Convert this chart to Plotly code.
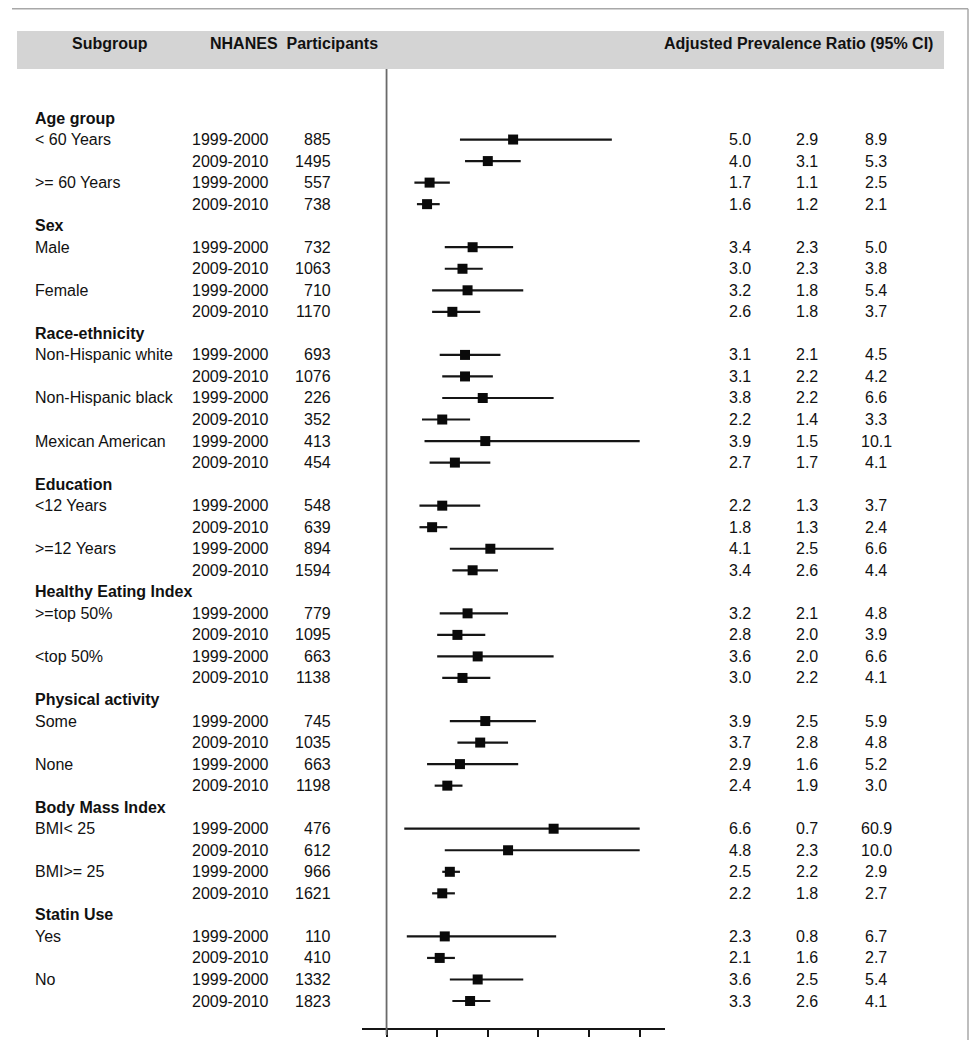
import plotly.graph_objects as go

# ---------------- data ----------------
groups = ["Age group", "Sex", "Race-ethnicity", "Education",
          "Healthy Eating Index", "Physical activity", "Body Mass Index", "Statin Use"]
subgroups_per_group = [2, 2, 3, 2, 2, 2, 2, 2]
subgroup_labels = ["< 60 Years", ">= 60 Years", "Male", "Female",
                   "Non-Hispanic white", "Non-Hispanic black", "Mexican American",
                   "<12 Years", ">=12 Years", ">=top 50%", "<top 50%",
                   "Some", "None", "BMI< 25", "BMI>= 25", "Yes", "No"]
periods = ["1999-2000", "2009-2010"]
participants = [885, 1495, 557, 738, 732, 1063, 710, 1170,
                693, 1076, 226, 352, 413, 454,
                548, 639, 894, 1594, 779, 1095, 663, 1138,
                745, 1035, 663, 1198, 476, 612, 966, 1621,
                110, 410, 1332, 1823]
pr = [5.0, 4.0, 1.7, 1.6, 3.4, 3.0, 3.2, 2.6,
      3.1, 3.1, 3.8, 2.2, 3.9, 2.7,
      2.2, 1.8, 4.1, 3.4, 3.2, 2.8, 3.6, 3.0,
      3.9, 3.7, 2.9, 2.4, 6.6, 4.8, 2.5, 2.2,
      2.3, 2.1, 3.6, 3.3]
ci_low = [2.9, 3.1, 1.1, 1.2, 2.3, 2.3, 1.8, 1.8,
          2.1, 2.2, 2.2, 1.4, 1.5, 1.7,
          1.3, 1.3, 2.5, 2.6, 2.1, 2.0, 2.0, 2.2,
          2.5, 2.8, 1.6, 1.9, 0.7, 2.3, 2.2, 1.8,
          0.8, 1.6, 2.5, 2.6]
ci_high = [8.9, 5.3, 2.5, 2.1, 5.0, 3.8, 5.4, 3.7,
           4.5, 4.2, 6.6, 3.3, 10.1, 4.1,
           3.7, 2.4, 6.6, 4.4, 4.8, 3.9, 6.6, 4.1,
           5.9, 4.8, 5.2, 3.0, 60.9, 10.0, 2.9, 2.7,
           6.7, 2.7, 5.4, 4.1]
x_ticks = [0, 2, 4, 6, 8, 10]
ci_display_max = 10.0

# ---------------- layout helpers ----------------
OFF = 8                     # page body margin of the html page
W, H = 979 - OFF, 1050 - OFF
ROW_PX = 21.537
FIRST_ROW_PX = 118 - OFF
AXIS_PX = 1028 - OFF


def px(x):
    return (x - OFF) / W


def py(y):
    return 1 - (y - OFF) / H


FONT = "Arial, 'Liberation Sans', sans-serif"
TXT = "#111111"
FS = 16

# build row structure
header_rows = []
data_rows = []
r = 0
si = 0
di = 0
for g, n in zip(groups, subgroups_per_group):
    header_rows.append((r, g))
    r += 1
    for k in range(n):
        for j, p in enumerate(periods):
            data_rows.append((r, subgroup_labels[si] if j == 0 else "", p, di))
            r += 1
            di += 1
        si += 1

row_y = [d[0] for d in data_rows]
disp_hi = [min(h, ci_display_max) for h in ci_high]
arm_plus = [h - v for h, v in zip(disp_hi, pr)]
arm_minus = [v - l for v, l in zip(pr, ci_low)]

fig = go.Figure()
fig.add_trace(go.Scatter(
    x=pr, y=row_y, mode="markers",
    marker=dict(symbol="square", size=10, color="#0a0a0a"),
    error_x=dict(type="data", symmetric=False, array=arm_plus, arrayminus=arm_minus,
                 color="#151515", thickness=2.2, width=0),
    showlegend=False, hoverinfo="skip"))

annotations = []


def add_text(x_px, row, text, anchor="left", bold=False):
    annotations.append(dict(
        x=px(x_px), xref="paper", y=row, yref="y", text=f"<b>{text}</b>" if bold else text,
        showarrow=False, xanchor=anchor, yanchor="middle",
        font=dict(family=FONT, size=FS, color=TXT)))


for row, g in header_rows:
    add_text(33, row, g, bold=True)
for row, lab, per, i in data_rows:
    if lab:
        add_text(33, row, lab)
    add_text(190, row, per)
    add_text(333, row, str(participants[i]), anchor="right")
    add_text(740, row, f"{pr[i]:.1f}", anchor="center")
    add_text(807, row, f"{ci_low[i]:.1f}", anchor="center")
    add_text(876, row, f"{ci_high[i]:.1f}", anchor="center")

# header band text
for x_px, t, anc in [(110, "Subgroup", "center"),
                     (208, "NHANES  Participants", "left"),
                     (935, "Adjusted Prevalence Ratio (95% CI)", "right")]:
    annotations.append(dict(
        x=px(x_px), xref="paper", y=py(43), yref="paper", text=f"<b>{t}</b>",
        showarrow=False, xanchor=anc, yanchor="middle",
        font=dict(family=FONT, size=FS, color=TXT)))

shapes = [
    dict(type="line", xref="paper", yref="paper", x0=px(12), x1=px(968), y0=py(8.8), y1=py(8.8),
         line=dict(color="#a8a8a8", width=1.5)),
    dict(type="line", xref="paper", yref="paper", x0=px(968), x1=px(968), y0=py(8.8), y1=py(1040),
         line=dict(color="#a8a8a8", width=1.5)),
    dict(type="rect", xref="paper", yref="paper", x0=px(17), x1=px(944), y0=py(31), y1=py(69),
         fillcolor="#d4d4d4", line=dict(width=0), layer="below"),
    dict(type="line", xref="x", yref="paper", x0=0, x1=0, y0=py(69), y1=py(1035),
         line=dict(color="#6a6a6a", width=1.8)),
]

top_row = -FIRST_ROW_PX / ROW_PX
bottom_row = (AXIS_PX - FIRST_ROW_PX) / ROW_PX

fig.update_layout(
    width=W, height=H,
    margin=dict(l=0, r=0, t=0, b=0),
    paper_bgcolor="white", plot_bgcolor="rgba(0,0,0,0)",
    annotations=annotations, shapes=shapes,
    xaxis=dict(domain=[px(362), px(665)], range=[-0.97, 11.0],
               tickvals=x_ticks, showticklabels=False, ticks="outside",
               ticklen=7, tickwidth=2, tickcolor="#151515",
               showline=True, linecolor="#151515", linewidth=2,
               showgrid=False, zeroline=False, fixedrange=True),
    yaxis=dict(domain=[1 - AXIS_PX / H, 1], range=[bottom_row, top_row],
               visible=False, showgrid=False, zeroline=False, fixedrange=True),
)

fig.write_html("out.html")
